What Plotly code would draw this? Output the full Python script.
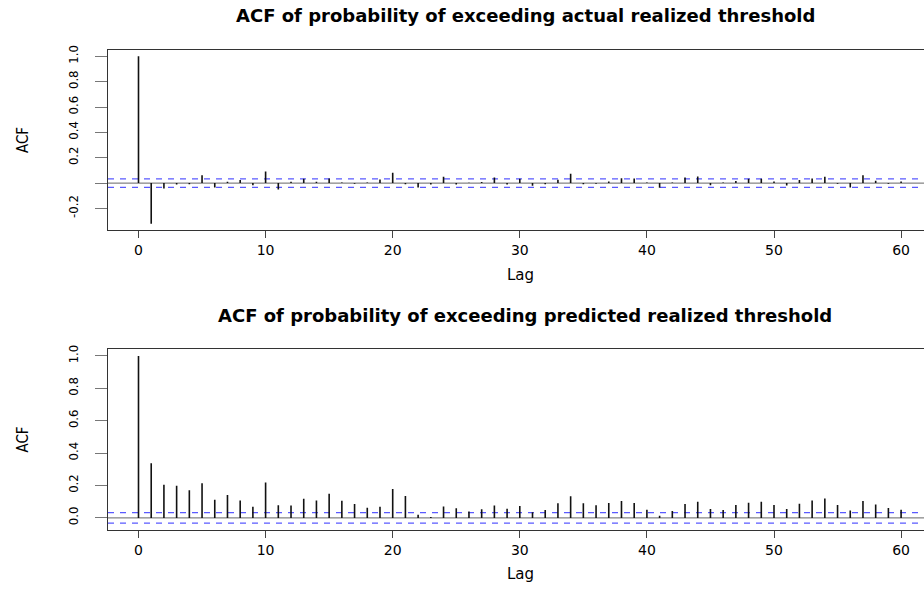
import plotly.graph_objects as go

# Autocorrelation estimates, lags 0..60
lags = list(range(0, 61))

acf_actual = [
    1.000, -0.320, -0.042, -0.010, -0.008, 0.063, -0.034, 0.010, 0.024, -0.016,
    0.092, -0.050, 0.010, 0.034, 0.010, 0.037, 0.005, -0.005, 0.005, 0.029,
    0.081, -0.008, -0.034, -0.010, 0.050, -0.010, 0.002, 0.008, 0.045, -0.010,
    0.034, -0.021, -0.008, 0.026, 0.073, -0.008, -0.005, 0.013, 0.039, 0.037,
    0.005, -0.037, 0.005, 0.045, 0.052, -0.016, 0.005, 0.016, 0.034, 0.034,
    0.013, -0.018, 0.024, 0.037, 0.050, -0.005, -0.034, 0.063, 0.018, -0.005,
    0.013,
]

acf_predicted = [
    1.000, 0.337, 0.204, 0.198, 0.171, 0.214, 0.112, 0.141, 0.108, 0.069,
    0.218, 0.078, 0.076, 0.118, 0.108, 0.149, 0.106, 0.086, 0.063, 0.069,
    0.178, 0.135, 0.020, 0.006, 0.071, 0.059, 0.039, 0.053, 0.076, 0.057,
    0.073, 0.035, 0.049, 0.090, 0.133, 0.090, 0.078, 0.092, 0.104, 0.092,
    0.050, 0.014, 0.043, 0.086, 0.100, 0.055, 0.049, 0.080, 0.094, 0.100,
    0.080, 0.055, 0.088, 0.108, 0.120, 0.080, 0.045, 0.104, 0.082, 0.061,
    0.051,
]

# 95% significance bound
clim_actual = 0.034
clim_predicted = 0.032

titles = [
    "ACF of probability of exceeding actual realized threshold",
    "ACF of probability of exceeding predicted realized threshold",
]

x_ticks = [0, 10, 20, 30, 40, 50, 60]
y_ticks_actual = [-0.2, 0.0, 0.2, 0.4, 0.6, 0.8, 1.0]
y_text_actual = ["-0.2", "", "0.2", "0.4", "0.6", "0.8", "1.0"]
y_ticks_predicted = [0.0, 0.2, 0.4, 0.6, 0.8, 1.0]
y_text_predicted = ["0.0", "0.2", "0.4", "0.6", "0.8", "1.0"]

W, H = 924, 590
L = 108
WIDE = "DejaVu Sans, Verdana, sans-serif"
NARROW = "Liberation Sans Narrow, DejaVu Sans Condensed, Arial Narrow, sans-serif"

fig = go.Figure()


def spikes(vals):
    xs, ys = [], []
    for k, v in zip(lags, vals):
        xs += [k, k, None]
        ys += [0, v, None]
    return xs, ys


panels = [
    (acf_actual, clim_actual, "x", "y", (0.6147, 0.9237), y_ticks_actual, y_text_actual, (-0.373, 1.053)),
    (acf_predicted, clim_predicted, "x2", "y2", (0.1029, 0.4114), y_ticks_predicted, y_text_predicted, (-0.0735, 1.041)),
]

x_range = [-2.4, -2.4 + (W - L) / 12.71]

for i, (vals, clim, xa, ya, dom, yt, ytt, yr) in enumerate(panels):
    # zero line
    fig.add_trace(go.Scatter(x=x_range, y=[0, 0], mode="lines", xaxis=xa, yaxis=ya,
                             line=dict(color="#666666", width=1), hoverinfo="skip"))
    # significance bounds
    for c in (clim, -clim):
        fig.add_trace(go.Scatter(x=x_range, y=[c, c], mode="lines", xaxis=xa, yaxis=ya,
                                 line=dict(color="#5a5aff", width=1.2, dash="6px,6px"),
                                 hoverinfo="skip"))
    xs, ys = spikes(vals)
    fig.add_trace(go.Scatter(x=xs, y=ys, mode="lines", xaxis=xa, yaxis=ya,
                             line=dict(color="#111111", width=1.6)))

    ax_suffix = "" if i == 0 else "2"
    fig.layout["xaxis" + ax_suffix] = dict(
        domain=[0, 1], anchor=ya, range=x_range,
        tickvals=x_ticks, ticktext=[str(t) for t in x_ticks],
        ticks="outside", ticklen=7, tickwidth=1.4, tickcolor="#444444",
        showline=True, mirror=True, linecolor="#333333", linewidth=1,
        showgrid=False, zeroline=False,
        tickfont=dict(family=WIDE, size=14, color="black"),
        ticklabelstandoff=0,
    )
    fig.layout["yaxis" + ax_suffix] = dict(
        domain=list(dom), anchor=xa, range=list(yr),
        tickvals=yt, ticktext=ytt, tickangle=-90,
        ticks="outside", ticklen=12, tickwidth=1.4, tickcolor="#777777",
        showline=True, mirror=False, linecolor="#333333", linewidth=1,
        showgrid=False, zeroline=False,
        tickfont=dict(family=NARROW, size=13, color="black"),
        ticklabelstandoff=12,
    )

    top_px = (1 - dom[1]) * H
    bot_px = (1 - dom[0]) * H
    mid_y = 1 - ((top_px + bot_px) / 2) / H
    # panel title
    fig.add_annotation(text="<b>" + titles[i] + "</b>", xref="paper", yref="paper",
                       x=(525 - L) / (W - L), y=1 - (top_px - 34) / H,
                       xanchor="center", yanchor="middle", showarrow=False,
                       font=dict(family=WIDE, size=18, color="black"))
    # x axis title
    fig.add_annotation(text="Lag", xref="paper", yref="paper",
                       x=(520 - L) / (W - L), y=1 - (bot_px + 45) / H,
                       xanchor="center", yanchor="middle", showarrow=False,
                       font=dict(family=WIDE, size=15, color="black"))
    # y axis title
    fig.add_annotation(text="ACF", xref="paper", yref="paper",
                       x=(23 - L) / (W - L), y=mid_y, textangle=-90,
                       xanchor="center", yanchor="middle", showarrow=False,
                       font=dict(family=NARROW, size=15, color="black"))

fig.update_layout(
    width=W, height=H,
    margin=dict(l=L, r=0, t=0, b=0),
    paper_bgcolor="white", plot_bgcolor="white",
    showlegend=False,
)

fig.write_html("out.html")
